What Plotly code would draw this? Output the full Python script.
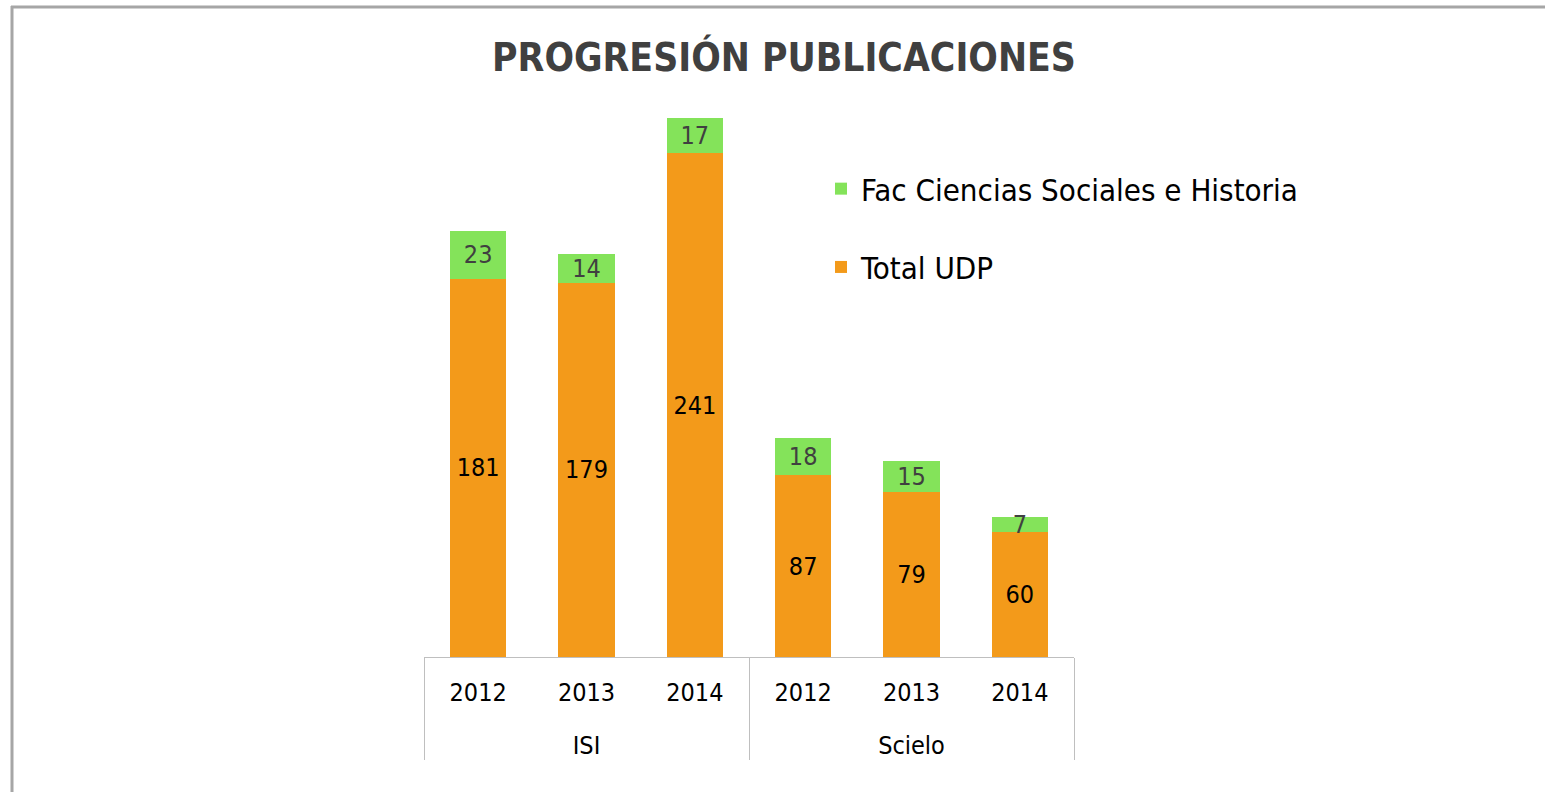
import plotly.graph_objects as go

groups = ["ISI", "ISI", "ISI", "Scielo", "Scielo", "Scielo"]
years = ["2012", "2013", "2014", "2012", "2013", "2014"]
total_udp = [181, 179, 241, 87, 79, 60]
fac_ccss = [23, 14, 17, 18, 15, 7]

# year labels padded with a blank line to widen the gap to the group row
year_labels = [y + "<br><span style='font-size:33px'>&nbsp;</span>" for y in years]

FONT = "DejaVu Sans Condensed, DejaVu Sans, sans-serif"
W, H = 1545, 792
L, R, T, B = 424, 471, 30, 135
PW, PH = W - L - R, H - T - B

fig = go.Figure()
fig.add_bar(
    x=[groups, year_labels], y=total_udp, name="Total UDP",
    marker=dict(color="#F39A1A", line=dict(width=0)),
    text=total_udp, textposition="inside", insidetextanchor="middle",
    constraintext="none", textangle=0,
    insidetextfont=dict(color="black", size=25, family=FONT),
    legendgroup="b", legendrank=2, hoverinfo="skip",
)
fig.add_bar(
    x=[groups, year_labels], y=fac_ccss, name="Fac Ciencias Sociales e Historia",
    marker=dict(color="#84E35A", line=dict(width=0)),
    text=fac_ccss, textposition="inside", insidetextanchor="middle",
    constraintext="none", textangle=0,
    insidetextfont=dict(color="#404040", size=25, family=FONT),
    legendgroup="a", legendrank=1, hoverinfo="skip",
)


def px_x(p):
    return (p - L) / PW


def px_y(p):
    return (H - B - p) / PH


fig.update_layout(
    width=W, height=H,
    barmode="stack", bargap=0.48,
    plot_bgcolor="white", paper_bgcolor="white",
    margin=dict(l=L, r=R, t=T, b=B),
    font=dict(family=FONT, color="black"),
    title=dict(
        text="<b>PROGRESIÓN PUBLICACIONES</b>",
        x=784 / W, xanchor="center", xref="container",
        y=1 - 57 / H, yanchor="middle", yref="container",
        font=dict(size=38.7, color="#404040", family=FONT),
    ),
    legend=dict(
        x=px_x(821), xanchor="left", y=px_y(162), yanchor="top",
        traceorder="grouped", tracegroupgap=35,
        font=dict(size=31, color="black", family=FONT),
        bgcolor="rgba(0,0,0,0)",
    ),
    xaxis=dict(
        type="multicategory", showline=True, linecolor="#BFBFBF", linewidth=1,
        showdividers=True, dividercolor="#BFBFBF", dividerwidth=1,
        tickfont=dict(size=25, color="black", family=FONT),
        ticks="", ticklabelstandoff=13, showgrid=False, zeroline=False,
    ),
    yaxis=dict(range=[0, 300], visible=False, showgrid=False, zeroline=False),
    shapes=[
        dict(type="line", xref="paper", yref="paper",
             x0=px_x(12), x1=px_x(12), y0=px_y(800), y1=px_y(6),
             line=dict(color="#A6A6A6", width=3)),
        dict(type="line", xref="paper", yref="paper",
             x0=px_x(11), x1=px_x(1560), y0=px_y(7), y1=px_y(7),
             line=dict(color="#A6A6A6", width=3)),
    ],
    showlegend=True,
)

fig.write_html(
    "out.html",
    config={"displayModeBar": False},
    post_script="document.body.style.margin='0';",
)
